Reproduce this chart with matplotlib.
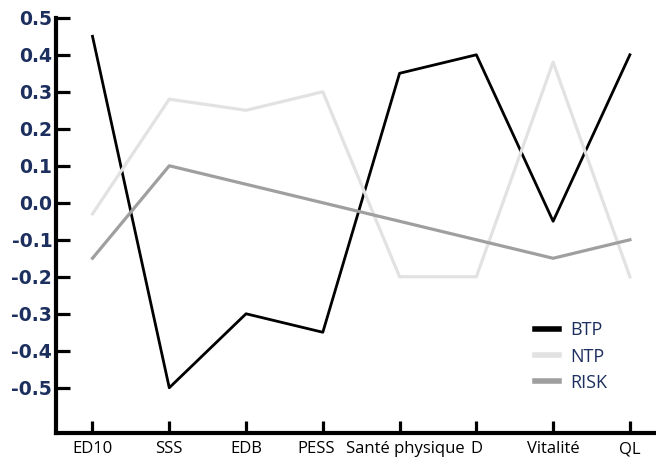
import matplotlib
matplotlib.use("Agg")
import matplotlib.pyplot as plt
from matplotlib.transforms import ScaledTranslation

categories = ["ED10", "SSS", "EDB", "PESS", "Santé physique", "D", "Vitalité", "QL"]
btp = [0.45, -0.50, -0.30, -0.35, 0.35, 0.40, -0.05, 0.40]
ntp = [-0.03, 0.28, 0.25, 0.30, -0.20, -0.20, 0.38, -0.20]
risk = [-0.15, 0.10, 0.05, 0.00, -0.05, -0.10, -0.15, -0.10]
yticks = [-0.5, -0.4, -0.3, -0.2, -0.1, 0.0, 0.1, 0.2, 0.3, 0.4, 0.5]

fig = plt.figure(figsize=(6.56, 4.68), dpi=100)
ax = fig.add_axes([0.086, 0.075, 0.914, 0.887])
x = range(len(categories))
ax.plot(x, btp, color="black", lw=2.0, label="BTP")
ax.plot(x, ntp, color="#e2e2e2", lw=2.3, label="NTP")
ax.plot(x, risk, color="#9f9f9f", lw=2.3, label="RISK")

ax.set_xlim(-0.47, 7.34)
ax.set_ylim(-0.622, 0.5)
ax.set_xticks(list(x))
ax.set_xticklabels(categories, fontsize=12, family="Open Sans")
ax.set_yticks(yticks)
ax.set_yticklabels([f"{v:.1f}" for v in yticks], fontsize=13.5, fontweight="bold", color="#1c2f5e")
ax.tick_params(axis="both", direction="in", length=10, width=2.3)
ax.tick_params(axis="x", pad=6, length=9)
ax.tick_params(axis="y", pad=3)
for s in ["top", "right"]:
    ax.spines[s].set_visible(False)
for s in ["left", "bottom"]:
    ax.spines[s].set_linewidth(3)

# small horizontal nudges so neighbouring labels do not collide
shifts = {"PESS": -7, "Santé physique": 6}
for lab in ax.get_xticklabels():
    dx = shifts.get(lab.get_text(), 0)
    if dx:
        lab.set_transform(lab.get_transform() + ScaledTranslation(dx / 100, 0, fig.dpi_scale_trans))

leg = ax.legend(loc="lower right", bbox_to_anchor=(0.945, 0.06), frameon=False,
                prop={"family": "Open Sans", "size": 13}, handlelength=1.35,
                labelspacing=0.45, handletextpad=0.6)
for line in leg.get_lines():
    line.set_linewidth(4)
for t in leg.get_texts():
    t.set_color("#1c2f5e")

fig.savefig("out.png", dpi=100)
